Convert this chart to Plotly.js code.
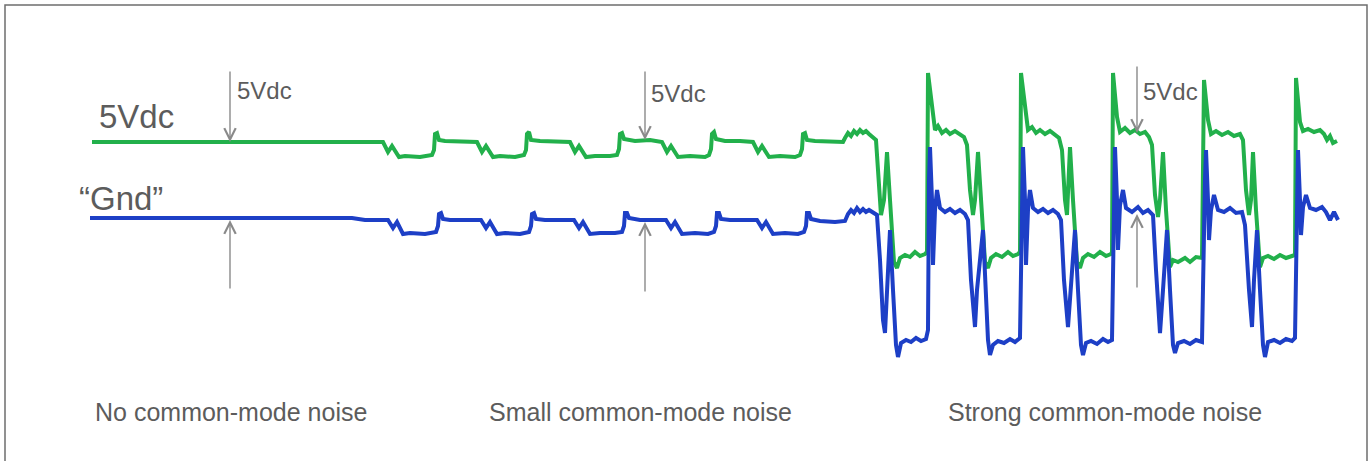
<!DOCTYPE html>
<html>
<head>
<meta charset="utf-8">
<script src="https://cdn.plot.ly/plotly-3.0.1.min.js"></script>
<style>html,body{margin:0;padding:0;background:#fff;}#chart{width:1370px;height:461px;}</style>
</head>
<body>
<div id="chart"></div>
<script>
// Time axis (arbitrary units) and signal level (arbitrary units, larger = lower on screen)
const greenT = [92,355,370,380,
 383,388,392,399,405,420,432,434,435,437,439,445,460,472,477,
 482,486,493,500,515,524,526,527,529,531,540,555,570,
 575,579,586,595,610,617,619,620,622,624,635,650,662,
 667,671,678,690,705,709,711,712,714,716,725,740,753,
 758,762,769,780,795,800,802,803,805,807,815,830,843,
 845,848,851,854,857,860,863,866,869,873,876,878,881,884,887,890,894,897,900,905,910,915,920,925,927,
 928,930,932,935,938,942,946,950,955,960,964,967,970,973,975,978,981,985,988,991,996,1002,1008,1013,1018,1020,
 1021,1023,1025,1028,1032,1036,1040,1045,1050,1055,1059,1062,1065,1067,1070,1073,1077,1080,1083,1088,1094,1100,1106,1111,1112,
 1113,1115,1117,1120,1125,1130,1135,1140,1145,1149,1152,1155,1158,1160,1163,1166,1170,1173,1178,1185,1190,1196,1202,
 1204,1206,1208,1211,1216,1222,1228,1234,1240,1243,1246,1249,1251,1253,1256,1260,1263,1268,1274,1280,1286,1292,1295,
 1296,1298,1300,1303,1308,1314,1320,1324,1327,1330,1333,1337];
const greenV = [142,142,143,143,
 142,152,146,157,156,157,155,150,134,133,140,141,141,142,142,
 152,146,157,156,157,155,150,134,132,140,141,141,142,
 152,146,157,156,156,155,149,134,133,139,141,140,142,
 152,146,157,156,157,155,149,134,132,139,141,141,142,
 152,146,157,156,157,155,149,134,133,140,141,141,142,
 138,133,136,131,134,130,133,131,134,137,140,170,215,200,152,200,262,268,258,255,257,252,256,254,252,
 73,90,113,130,126,133,130,134,131,135,137,145,190,215,200,152,200,262,268,258,254,257,252,256,254,252,
 73,90,113,130,127,133,130,134,131,135,138,150,200,215,147,200,262,268,258,254,257,252,256,254,252,
 73,95,117,132,128,133,130,134,132,137,145,195,217,200,152,210,267,260,262,258,262,257,258,
 80,100,120,134,131,135,132,136,134,140,190,215,200,152,210,267,258,256,259,255,258,256,255,
 78,100,122,131,129,132,130,134,140,136,143,141];

const blueT = [90,352,365,385,
 388,393,397,403,410,425,436,438,439,441,443,450,465,481,
 486,490,497,505,520,529,531,532,534,536,545,560,574,
 579,583,590,600,615,622,624,625,627,629,640,655,666,
 671,675,682,695,708,714,716,717,719,721,730,745,757,
 762,766,773,785,798,804,806,807,809,811,820,835,845,
 848,851,854,857,860,863,866,869,873,877,880,883,885,887,890,893,896,898,901,906,911,916,921,926,928,
 929,930,932,933,935,937,940,945,950,955,960,965,968,971,975,977,983,986,988,990,993,998,1004,1010,1015,1020,
 1022,1023,1025,1026,1028,1030,1033,1038,1043,1048,1053,1058,1061,1064,1068,1071,1075,1078,1081,1083,1086,1091,1097,1103,1108,1112,
 1114,1115,1117,1118,1120,1123,1126,1132,1138,1143,1148,1153,1156,1160,1163,1167,1170,1173,1175,1178,1184,1190,1196,1202,
 1205,1206,1208,1209,1211,1214,1218,1224,1230,1236,1242,1245,1249,1252,1254,1257,1260,1263,1265,1268,1274,1280,1286,1292,1295,
 1297,1298,1300,1301,1303,1306,1310,1316,1322,1326,1330,1334,1338];
const blueV = [218,218,220,220,
 220,228,222,234,233,234,232,226,214,213,219,220,220,220,
 228,222,234,233,234,232,226,214,213,219,220,220,220,
 228,222,234,233,233,232,226,213,213,218,220,220,220,
 228,222,234,233,234,232,226,213,213,219,220,220,220,
 228,222,234,233,234,232,226,213,213,219,221,222,221,
 214,210,213,208,212,209,212,210,213,215,260,320,333,290,230,290,345,357,343,340,342,338,341,339,330,
 180,147,200,265,210,190,208,212,209,213,210,214,220,280,327,290,230,290,340,355,345,341,343,339,342,338,
 180,147,200,265,210,190,208,212,209,213,210,214,220,280,327,290,230,290,345,355,343,341,344,339,342,340,
 180,147,200,250,205,190,208,212,207,213,210,215,270,333,290,230,290,345,353,343,341,344,340,342,
 180,150,200,240,210,195,210,212,208,213,212,225,290,327,280,230,290,345,357,342,340,343,339,341,338,
 180,150,200,235,207,195,208,210,207,212,220,212,220];

const railLabels = ['5Vdc', '\u201CGnd\u201D'];
const arrowLabel = '5Vdc';
const sectionLabels = ['No common-mode noise', 'Small common-mode noise', 'Strong common-mode noise'];

const GREEN = '#22b04b', BLUE = '#1d3fc6', ARROW = '#8a8a8a', TXT = '#5c5c5c';
const FONT = 'Liberation Sans, Arial, sans-serif';

const traces = [
  {x: greenT, y: greenV, mode: 'lines', line: {color: GREEN, width: 4}, hoverinfo: 'skip'},
  {x: blueT, y: blueV, mode: 'lines', line: {color: BLUE, width: 4}, hoverinfo: 'skip'}
];

function arrow(x, yHead, yTail) {
  return {x: x, y: yHead, ax: x, ay: yTail, xref: 'x', yref: 'y', axref: 'x', ayref: 'y',
    text: '', showarrow: true, arrowhead: 5, arrowsize: 1.6, arrowwidth: 1.4, arrowcolor: ARROW, standoff: 0};
}
function label(text, x, y, size, xanchor) {
  return {x: x, y: y, xref: 'x', yref: 'y', text: text, showarrow: false, xanchor: xanchor, yanchor: 'middle',
    font: {family: FONT, size: size, color: TXT}};
}

const annotations = [
  label(railLabels[0], 97, 116, 33, 'left'),
  label(railLabels[1], 77, 198, 33, 'left'),
  arrow(230, 142, 70), arrow(230, 220, 290),
  arrow(645, 140, 70), arrow(645, 222, 293),
  arrow(1137, 133, 65), arrow(1137, 214, 289),
  label(arrowLabel, 235, 90, 24, 'left'),
  label(arrowLabel, 649, 93, 24, 'left'),
  label(arrowLabel, 1141, 91, 24, 'left'),
  label(sectionLabels[0], 231, 412, 25, 'center'),
  label(sectionLabels[1], 640, 412, 25, 'center'),
  label(sectionLabels[2], 1105, 412, 25, 'center')
];

const layout = {
  width: 1370, height: 461,
  margin: {l: 0, r: 0, t: 0, b: 0, pad: 0},
  paper_bgcolor: '#ffffff', plot_bgcolor: '#ffffff',
  showlegend: false,
  xaxis: {range: [0, 1370], visible: false, fixedrange: true},
  yaxis: {range: [461, 0], visible: false, fixedrange: true},
  shapes: [{type: 'rect', xref: 'x', yref: 'y', x0: 5, x1: 1367, y0: 5, y1: 475,
    line: {color: '#6e6e6e', width: 1.5}, fillcolor: 'rgba(0,0,0,0)'}],
  annotations: annotations
};

Plotly.newPlot('chart', traces, layout, {staticPlot: true, displayModeBar: false});
</script>
</body>
</html>
